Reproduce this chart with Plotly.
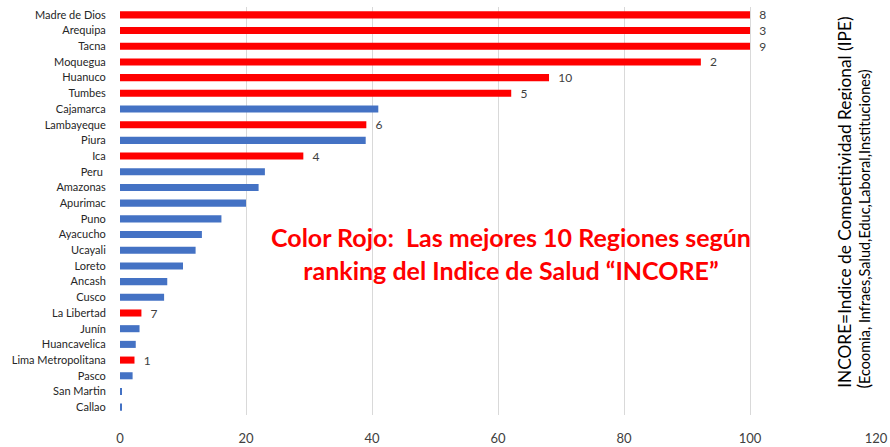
import plotly.graph_objects as go

# Regiones (de arriba hacia abajo) y valor del indice INCORE
regiones = [
    "Madre de Dios", "Arequipa", "Tacna", "Moquegua", "Huanuco", "Tumbes",
    "Cajamarca", "Lambayeque", "Piura", "Ica", "Peru ", "Amazonas", "Apurimac",
    "Puno", "Ayacucho", "Ucayali", "Loreto", "Ancash", "Cusco", "La Libertad",
    "Junín", "Huancavelica", "Lima Metropolitana", "Pasco", "San Martin", "Callao",
]
valores = [
    100, 100, 100, 92.2, 68.1, 62.1,
    41.0, 39.1, 39.0, 29.1, 23.0, 22.0, 20.0,
    16.1, 13.0, 12.0, 10.0, 7.5, 7.0, 3.4,
    3.1, 2.5, 2.3, 2.0, 0.2, 0.2,
]
# Ranking del indice de salud (solo las 10 mejores)
ranking_salud = [
    8, 3, 9, 2, 10, 5,
    None, 6, None, 4, None, None, None,
    None, None, None, None, None, None, 7,
    None, None, 1, None, None, None,
]
x_ticks = [0, 20, 40, 60, 80, 100, 120]

ROJO = "#FF0000"
AZUL = "#4472C4"

colores = [ROJO if r is not None else AZUL for r in ranking_salud]
# espacio duro para separar la etiqueta del final de la barra
etiquetas = ["\u00a0\u00a0" + str(r) if r is not None else "" for r in ranking_salud]

fig = go.Figure(go.Bar(
    x=valores,
    y=regiones,
    orientation="h",
    marker=dict(color=colores, line=dict(width=0)),
    text=etiquetas,
    textposition="outside",
    constraintext="none",
    textfont=dict(family="Lato, sans-serif", size=12, color="#404040"),
    cliponaxis=False,
    hoverinfo="x+y",
))

# Texto explicativo en rojo
fig.add_annotation(
    x=62.1, y=0.397, xref="x", yref="paper",
    text="<b>Color Rojo:\u00a0 Las mejores 10 Regiones según<br>ranking del Indice de Salud “INCORE”</b>",
    showarrow=False,
    font=dict(family="Lato, sans-serif", size=25, color=ROJO),
    align="center",
)

# Titulo vertical a la derecha (dos cajas con fondo blanco)
fig.add_annotation(
    x=0.958, y=0.061, xref="paper", yref="paper",
    xanchor="center", yanchor="bottom",
    text="INCORE=Indice de Competitividad Regional (IPE)",
    textangle=-90, showarrow=False,
    bgcolor="white",
    font=dict(family="Lato, sans-serif", size=17.3, color="#000000"),
)
fig.add_annotation(
    x=0.984, y=0.061, xref="paper", yref="paper",
    xanchor="center", yanchor="bottom",
    text="<span style='font-size:17px'>(</span>Ecoomia, Infraes,Salud,Educ,Laboral,Instituciones)",
    textangle=-90, showarrow=False,
    bgcolor="white",
    font=dict(family="Lato, sans-serif", size=14.5, color="#000000"),
)

fig.update_layout(
    width=890, height=447,
    margin=dict(l=120, r=14, t=7, b=32),
    plot_bgcolor="white",
    paper_bgcolor="white",
    bargap=0.55,
    showlegend=False,
    font=dict(family="Lato, sans-serif"),
)
fig.update_xaxes(
    range=[0, 120],
    tickvals=x_ticks,
    showgrid=True, gridcolor="#D9D9D9", gridwidth=1,
    zeroline=False, showline=False,
    tickfont=dict(size=13, color="#404040"),
    ticks="outside", ticklen=11, tickcolor="rgba(0,0,0,0)",
    automargin=False,
)
fig.update_yaxes(
    autorange="reversed",
    showgrid=False, zeroline=False, showline=False,
    tickfont=dict(size=11, color="#262626"),
    ticks="outside", ticklen=11, tickcolor="rgba(0,0,0,0)",
    automargin=False,
)

# quitar el margen por defecto del body para que la figura ocupe toda la ventana
fig.write_html(
    "out.html",
    config={"displayModeBar": False},
    post_script="document.body.style.margin='0';",
)
